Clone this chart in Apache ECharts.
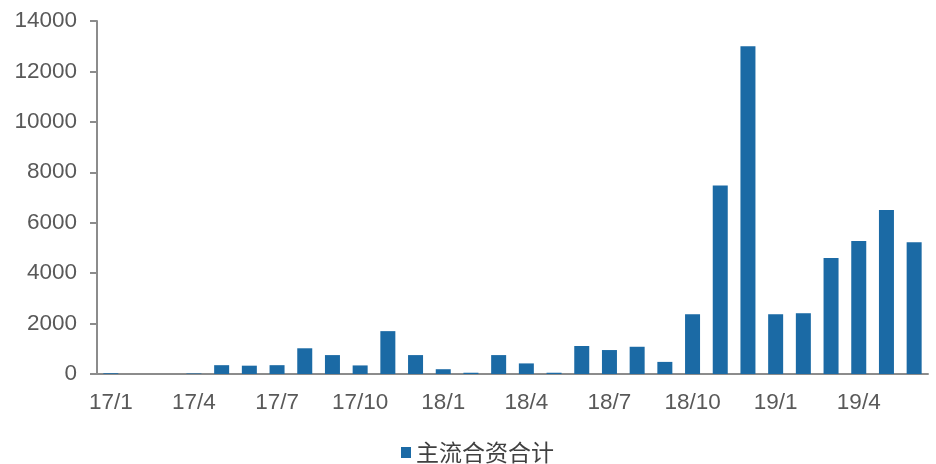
<!DOCTYPE html>
<html><head><meta charset="utf-8">
<script src="https://cdn.jsdelivr.net/npm/echarts@6/dist/echarts.min.js"></script>
<style>html,body{margin:0;padding:0;background:#fff}#c{width:936px;height:464px}</style>
</head><body><div id="c"></div>
<script>
const categories = ['17/1','17/2','17/3','17/4','17/5','17/6','17/7','17/8','17/9','17/10','17/11','17/12',
  '18/1','18/2','18/3','18/4','18/5','18/6','18/7','18/8','18/9','18/10','18/11','18/12',
  '19/1','19/2','19/3','19/4','19/5','19/6'];
const seriesName = '主流合资合计';
const values = [30,0,0,20,350,330,350,1020,750,340,1700,750,
  190,50,750,420,50,1110,950,1080,480,2370,7480,13000,
  2370,2410,4600,5270,6500,5230];
const yTicks = [0,2000,4000,6000,8000,10000,12000,14000];

const chart = echarts.init(document.getElementById('c'));
chart.setOption({
  animation:false,
  grid:{left:97,right:8,top:21,bottom:90,containLabel:false},
  legend:{data:[seriesName],top:436,left:396,itemWidth:10,itemHeight:11,icon:'rect',itemGap:6,
    textStyle:{fontFamily:'Noto Sans CJK SC',fontSize:23,color:'#404040'}},
  xAxis:{type:'category',data:categories,
    axisLine:{lineStyle:{color:'#8c8c8c',width:2}},
    axisTick:{interval:2,length:7,lineStyle:{color:'#8c8c8c',width:2}},
    axisLabel:{interval:2,color:'#595959',fontFamily:'Liberation Sans',fontSize:22.5,margin:17}},
  yAxis:{type:'value',min:0,max:14000,interval:2000,
    axisLine:{show:true,lineStyle:{color:'#8c8c8c',width:2}},
    axisTick:{show:true,length:7,inside:false,lineStyle:{color:'#8c8c8c',width:2}},
    splitLine:{show:false},
    axisLabel:{color:'#595959',fontFamily:'Liberation Sans',fontSize:22.5,margin:20,
      formatter:v=>yTicks.includes(v)?String(v):''}},
  series:[{name:seriesName,type:'bar',data:values,barWidth:15,
    itemStyle:{color:'#1b6aa5'}}]
});
</script></body></html>
